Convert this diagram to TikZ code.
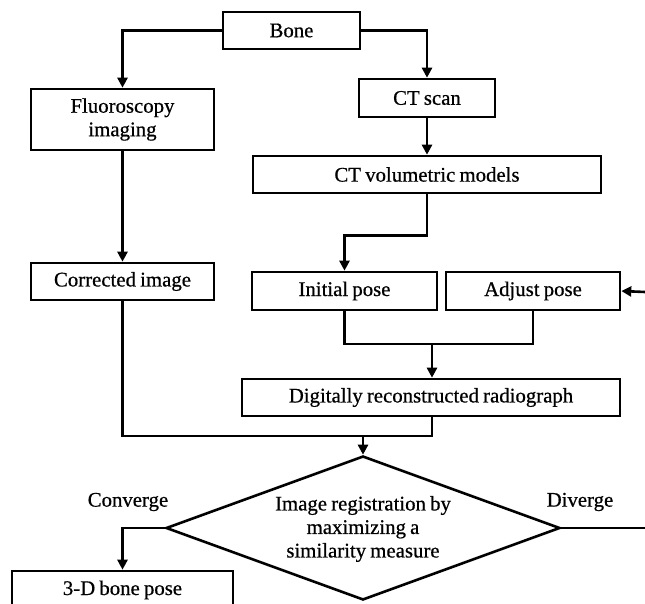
\documentclass[tikz,border=0pt]{standalone}
\usepackage{fontspec}
\setmainfont[FakeBold=0.6,WordSpace=0.8]{Liberation Serif}
\usetikzlibrary{shapes.geometric,arrows.meta}
\begin{document}
\begin{tikzpicture}[x=1pt,y=-1pt,
  line width=2.6pt,
  every node/.style={font=\fontsize{20.8}{23.5}\selectfont},
  box/.style={draw,rectangle,inner sep=0pt,align=center},
  arr/.style={-{Triangle[length=10pt,width=10pt]}},
  lbl/.style={inner sep=0pt}]
\useasboundingbox (0,0) rectangle (645,604);
\clip (0,0) rectangle (645,604);
\fill[white] (0,0) rectangle (645,604);
% boxes
\node[box,minimum width=137pt,minimum height=37pt] (bone) at (291.5,30.5) {Bone};
\node[box,minimum width=183pt,minimum height=61pt] (fluoro) at (122.5,119.5) {Fluoroscopy\\imaging};
\node[box,minimum width=136pt,minimum height=38pt] (ct) at (427,98) {CT scan};
\node[box,minimum width=348pt,minimum height=37pt] (ctvol) at (427,174.5) {CT volumetric models};
\node[box,minimum width=183pt,minimum height=37pt] (corr) at (122.5,281.5) {Corrected image};
\node[box,minimum width=185pt,minimum height=38pt] (init) at (344.5,291) {Initial pose};
\node[box,minimum width=174pt,minimum height=38pt] (adj) at (533,291) {Adjust pose};
\node[box,minimum width=378pt,minimum height=37pt] (drr) at (431,397.5) {Digitally reconstructed radiograph};
\node[draw,diamond,minimum width=394pt,minimum height=144pt,inner sep=0pt] (reg) at (363,528) {};
\node[lbl,align=center] (regtxt) at (363,529) {Image registration by\\maximizing a\\similarity measure};
\node[box,minimum width=221pt,minimum height=44pt] (bpose) at (122.5,593) {};
\node[lbl] (bposetxt) at (122.5,590) {3-D bone pose};
\node[lbl] (conv) at (128,502) {Converge};
\node[lbl] (div) at (580,502) {Diverge};
% helper coordinates
\coordinate (m1) at (432,344);
\coordinate (m2) at (432,436);
\coordinate (m3) at (363,436);
\coordinate (adjin) at (645,292);
\coordinate (divend) at (645,528);
% connectors
\draw[arr] (bone.west) -| (fluoro.north);
\draw[arr] (bone.east) -| (ct.north);
\draw[arr] (ct.south) -- (ctvol.north);
\draw[arr] (ctvol.south) -- ++(0,41) -| (init.north);
\draw[arr] (fluoro.south) -- (corr.north);
\draw (init.south) |- (m1) -| (adj.south);
\draw[arr] (m1) -- (m1 |- drr.north);
\draw (corr.south) |- (m2) -- (m2 |- drr.south);
\draw[arr] (m3) -- (reg.north);
\draw[arr] (reg.west) -| (bpose.north);
\draw (reg.east) -- (divend);
\draw[arr] (adjin) -- (adj.east);
\end{tikzpicture}
\end{document}
